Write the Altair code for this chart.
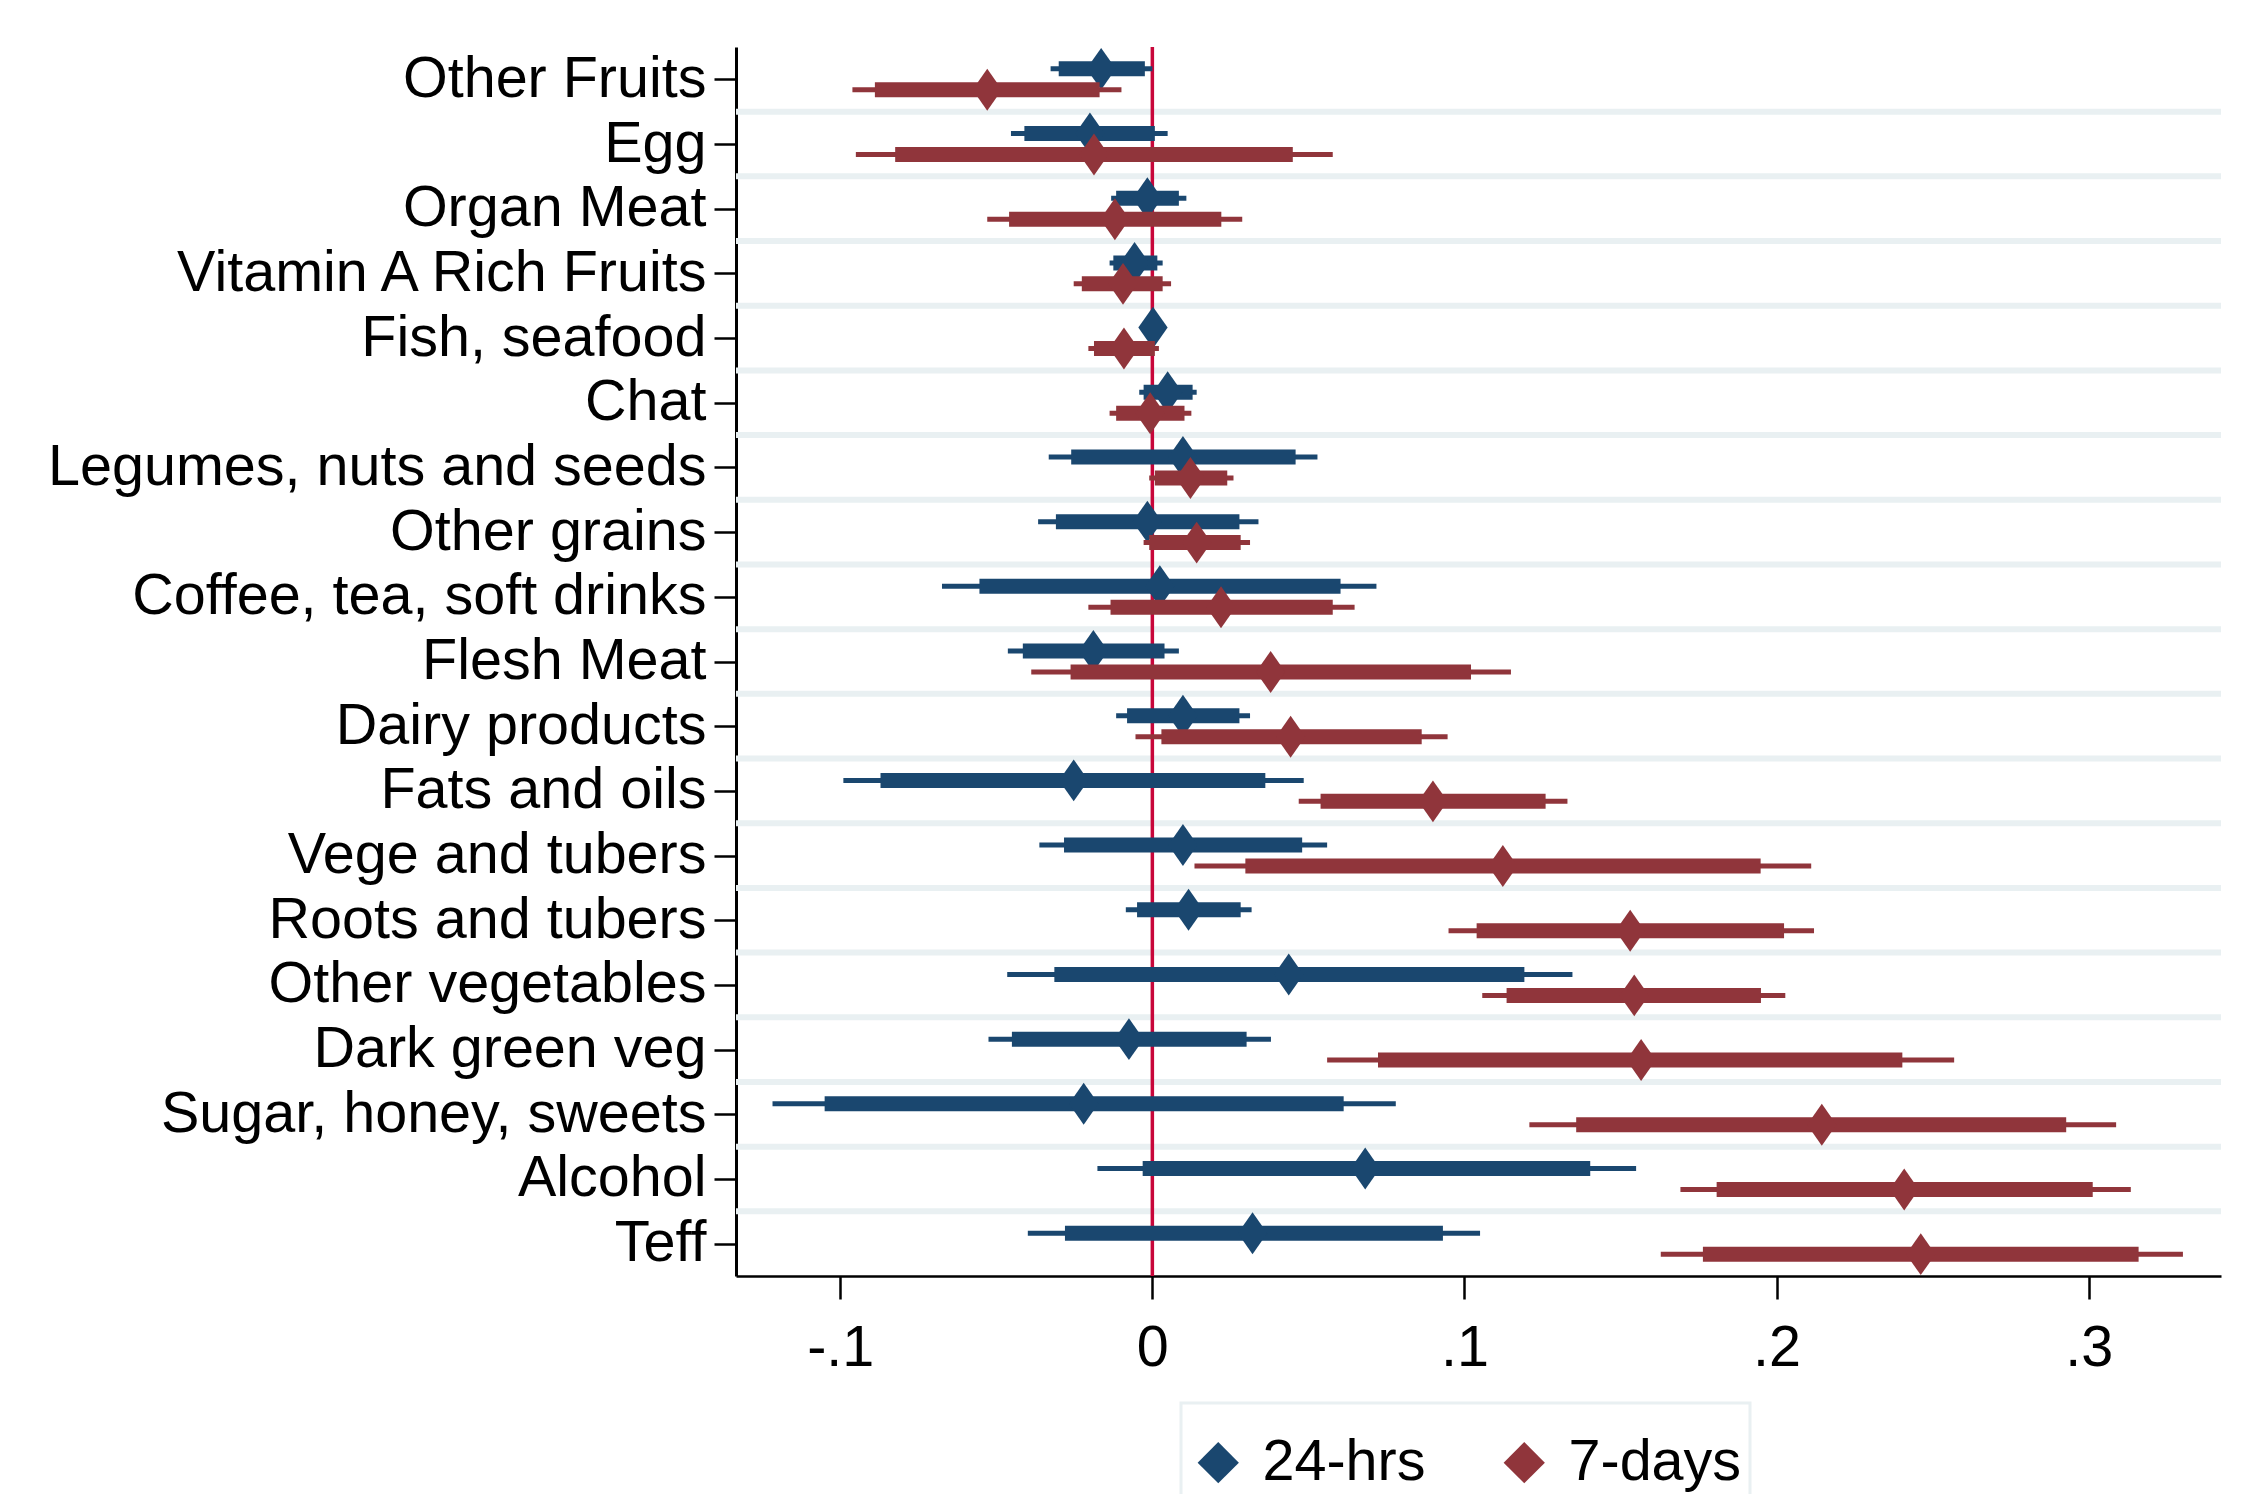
import json
import altair as alt
import pandas as pd

# ---------------- data ----------------
foods = ["Other Fruits", "Egg", "Organ Meat", "Vitamin A Rich Fruits", "Fish, seafood",
         "Chat", "Legumes, nuts and seeds", "Other grains", "Coffee, tea, soft drinks",
         "Flesh Meat", "Dairy products", "Fats and oils", "Vege and tubers",
         "Roots and tubers", "Other vegetables", "Dark green veg",
         "Sugar, honey, sweets", "Alcohol", "Teff"]
series_names = ["24-hrs", "7-days"]
x_tick_values = [-0.1, 0.0, 0.1, 0.2, 0.3]
x_tick_labels = ["-.1", "0", ".1", ".2", ".3"]

h24_point = [-0.0164, -0.0200, -0.0016, -0.0057, 0.0002, 0.0049, 0.0098, -0.0016, 0.0024,
             -0.0189, 0.0098, -0.0252, 0.0098, 0.0116, 0.0437, -0.0075, -0.0220, 0.0682, 0.0321]
h24_lo_outer = [-0.0326, -0.0453, -0.0132, -0.0137, -0.0010, -0.0042, -0.0332, -0.0366, -0.0674,
                -0.0463, -0.0116, -0.0990, -0.0362, -0.0085, -0.0465, -0.0525, -0.1217, -0.0176, -0.0399]
h24_hi_outer = [0.0000, 0.0049, 0.0109, 0.0033, 0.0014, 0.0142, 0.0529, 0.0340, 0.0718,
                0.0085, 0.0313, 0.0485, 0.0560, 0.0318, 0.1346, 0.0380, 0.0780, 0.1550, 0.1050]
h24_lo_inner = [-0.0300, -0.0410, -0.0116, -0.0125, -0.0008, -0.0028, -0.0260, -0.0309, -0.0554,
                -0.0415, -0.0081, -0.0871, -0.0283, -0.0049, -0.0314, -0.0450, -0.1050, -0.0031, -0.0280]
h24_hi_inner = [-0.0024, 0.0008, 0.0085, 0.0016, 0.0012, 0.0129, 0.0459, 0.0279, 0.0603,
                0.0039, 0.0279, 0.0362, 0.0480, 0.0283, 0.1192, 0.0302, 0.0613, 0.1403, 0.0931]

d7_point = [-0.0529, -0.0187, -0.0120, -0.0094, -0.0091, -0.0007, 0.0122, 0.0142, 0.0220,
            0.0379, 0.0443, 0.0899, 0.1123, 0.1531, 0.1544, 0.1566, 0.2145, 0.2409, 0.2462]
d7_lo_outer = [-0.0961, -0.0950, -0.0529, -0.0252, -0.0205, -0.0137, -0.0010, -0.0028, -0.0205,
               -0.0388, -0.0054, 0.0469, 0.0135, 0.0949, 0.1057, 0.0560, 0.1208, 0.1692, 0.1629]
d7_hi_outer = [-0.0099, 0.0578, 0.0288, 0.0060, 0.0021, 0.0125, 0.0260, 0.0313, 0.0648,
               0.1149, 0.0946, 0.1330, 0.2111, 0.2120, 0.2028, 0.2569, 0.3088, 0.3135, 0.3302]
d7_lo_inner = [-0.0889, -0.0824, -0.0459, -0.0226, -0.0187, -0.0116, 0.0008, -0.0010, -0.0134,
               -0.0262, 0.0029, 0.0539, 0.0298, 0.1039, 0.1135, 0.0723, 0.1358, 0.1808, 0.1764]
d7_hi_inner = [-0.0169, 0.0450, 0.0221, 0.0033, 0.0008, 0.0103, 0.0240, 0.0283, 0.0578,
               0.1021, 0.0863, 0.1260, 0.1949, 0.2024, 0.1950, 0.2403, 0.2928, 0.3013, 0.3160]

# ---------------- styling ----------------
BLUE = "#1a476f"
RED = "#90353b"
ZERO = "#c8063a"
GRID = "#e9f0f2"
FONT = "Liberation Sans"
FS = 57.5
W, H = 1485, 1229
OFF = 0.162
NBSP = "\u00a0"

series_data = {
    "24-hrs": (h24_point, h24_lo_outer, h24_hi_outer, h24_lo_inner, h24_hi_inner, -OFF),
    "7-days": (d7_point, d7_lo_outer, d7_hi_outer, d7_lo_inner, d7_hi_inner, OFF),
}
rows = []
for s in series_names:
    pt, lo_o, hi_o, lo_i, hi_i, off = series_data[s]
    for i, f in enumerate(foods):
        rows.append(dict(food=f, series=s, ypos=i + 1 + off, point=pt[i],
                         lo_o=lo_o[i], hi_o=hi_o[i], lo_i=lo_i[i], hi_i=hi_i[i]))
df = pd.DataFrame(rows)
grid_df = pd.DataFrame({"g": [i + 1.5 for i in range(len(foods) - 1)]})
zero_df = pd.DataFrame({"z": [0.0]})

xscale = alt.Scale(domain=[-0.1334, 0.3424], nice=False, zero=False)
yscale = alt.Scale(domain=[0.5, len(foods) + 0.5], reverse=True, nice=False, zero=False)

yaxis = alt.Axis(values=list(range(1, len(foods) + 1)),
                 labelExpr=json.dumps(foods) + "[datum.value - 1]",
                 title=None, grid=False, tickSize=22, tickWidth=2.5, tickColor="black",
                 domainColor="black", domainWidth=3, labelFont=FONT, labelFontSize=FS,
                 labelColor="black", labelPadding=8, labelLimit=3000, labelOverlap=False,
                 labelFlush=False)
xaxis = alt.Axis(values=x_tick_values,
                 labelExpr=json.dumps(x_tick_labels) + "[round(datum.value * 10) + 1]",
                 title=None, grid=False, tickSize=23, tickWidth=2.5, tickColor="black",
                 domainColor="black", domainWidth=2.5, labelFont=FONT, labelFontSize=FS,
                 labelColor="black", labelPadding=21, labelOverlap=False, labelFlush=False)

legend = alt.Legend(title=" ", titleFontSize=10, titlePadding=12,
                    orient="none", legendX=445, legendY=1356,
                    direction="horizontal", columns=2, symbolType="diamond",
                    symbolSize=1700, symbolStrokeWidth=0, symbolOpacity=1,
                    labelFont=FONT, labelFontSize=FS, labelColor="black",
                    labelExpr="datum.label == '7-days' ? datum.label + '" + NBSP * 2 + "' : datum.label",
                    labelOffset=15.5, columnPadding=70, padding=8.5, labelLimit=3000,
                    strokeColor=GRID, fillColor="white")

color = alt.Color("series:N", scale=alt.Scale(domain=series_names, range=[BLUE, RED]),
                  legend=legend)

grid = alt.Chart(grid_df).mark_rule(color=GRID, strokeWidth=6).encode(
    y=alt.Y("g:Q", scale=yscale, axis=yaxis),
    x=alt.value(0), x2=alt.value(W))

zero = alt.Chart(zero_df).mark_rule(color=ZERO, strokeWidth=3.5).encode(
    x=alt.X("z:Q", scale=xscale, axis=xaxis),
    y=alt.value(0), y2=alt.value(H))

diamond = "M0,-1.43L1,0L0,1.43L-1,0Z"

layers = [grid, zero]
for s, c in zip(series_names, [BLUE, RED]):
    base = alt.Chart(df).transform_filter(alt.datum.series == s)
    outer = base.mark_rule(color=c, strokeWidth=5).encode(
        x=alt.X("lo_o:Q", scale=xscale, axis=xaxis), x2="hi_o:Q",
        y=alt.Y("ypos:Q", scale=yscale, axis=yaxis))
    inner = base.mark_rule(color=c, strokeWidth=15).encode(
        x=alt.X("lo_i:Q", scale=xscale, axis=xaxis), x2="hi_i:Q",
        y=alt.Y("ypos:Q", scale=yscale, axis=yaxis))
    pts = base.mark_point(shape=diamond, filled=True, size=860, opacity=1,
                          strokeWidth=0).encode(
        x=alt.X("point:Q", scale=xscale, axis=xaxis),
        y=alt.Y("ypos:Q", scale=yscale, axis=yaxis),
        color=color)
    layers += [outer, inner, pts]

chart = alt.layer(*layers).properties(
    width=W, height=H,
    autosize=alt.AutoSizeParams(type="none"),
    padding={"left": 728, "top": 39, "right": 13, "bottom": 218},
    background="white",
).configure_view(stroke=None).configure_legend(strokeWidth=3)

chart.save("out.html", embed_options={"renderer": "svg", "actions": False})
